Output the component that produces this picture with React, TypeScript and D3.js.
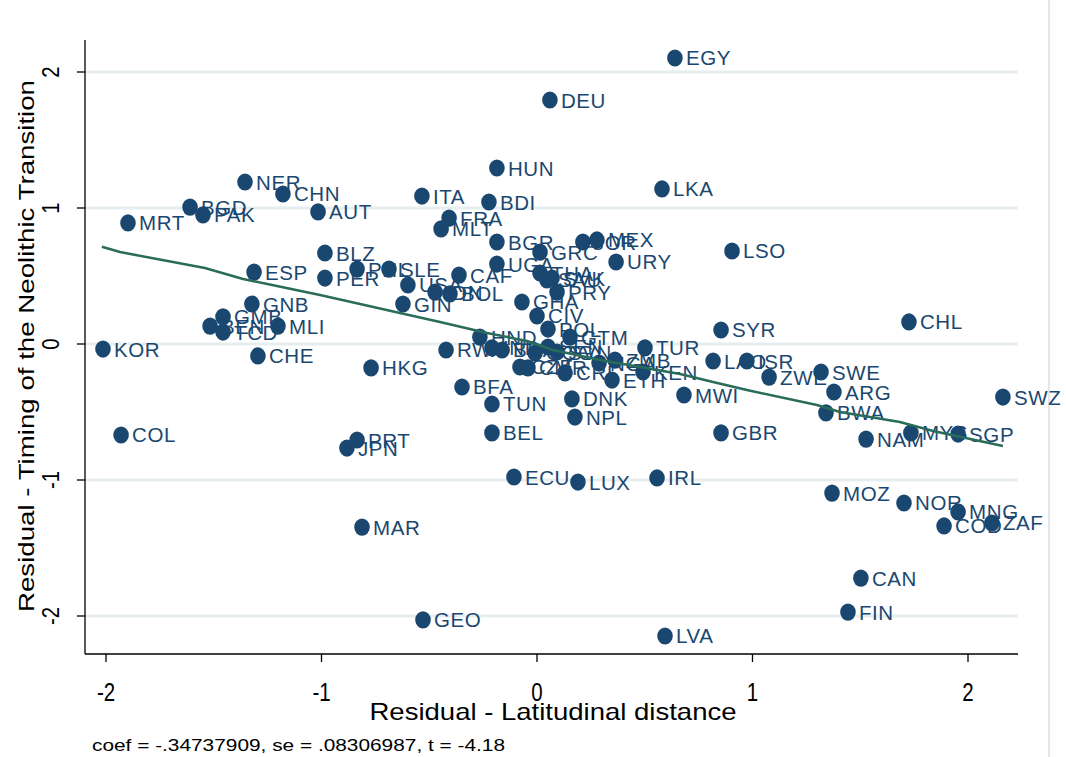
import React from "react";
import * as d3 from "d3";

const countries = [
  "EGY","DEU","HUN","LKA","ITA","BDI","NER","CHN","BGD","PAK","MRT","AUT","FRA","MLT","BGR","GRC","JOR","MEX","URY","LSO",
  "BLZ","ESP","PER","PHL","SLE","UGA","CAF","USA","IDN","BOL","GIN","THA","SAU","SVK","PRY","GHA","CIV","POL","GTM","HND",
  "GNB","GMB","BEN","TCD","MLI","KOR","CHE","RWA","IND","BRA","CZE","CMR","COG","SEN","SVN","CRI","NGA","ZMB","ETH","TUR",
  "KEN","MWI","SYR","LAO","ISR","ZWE","SWE","ARG","BWA","CHL","SWZ","GBR","NAM","MYS","SGP","HKG","BFA","TUN","BEL","DNK",
  "NPL","COL","PRT","JPN","ECU","LUX","IRL","MOZ","NOR","MNG","COD","ZAF","MAR","CAN","FIN","GEO","LVA"
];
const residLatitude = [
  0.640,0.060,-0.186,0.580,-0.534,-0.223,-1.355,-1.179,-1.610,-1.550,-1.898,-1.016,-0.408,-0.445,-0.186,0.014,0.213,0.278,0.367,0.905,
  -0.984,-1.313,-0.984,-0.835,-0.687,-0.186,-0.362,-0.599,-0.473,-0.404,-0.622,0.014,0.046,0.070,0.093,-0.070,0.000,0.051,0.153,-0.265,
  -1.323,-1.457,-1.517,-1.457,-1.202,-2.014,-1.295,-0.422,-0.209,-0.162,-0.079,-0.042,-0.009,0.051,0.093,0.130,0.288,0.362,0.348,0.501,
  0.492,0.682,0.854,0.817,0.974,1.077,1.318,1.378,1.341,1.726,2.162,0.854,1.527,1.735,1.954,-0.770,-0.348,-0.209,-0.209,0.162,
  0.176,-1.930,-0.835,-0.882,-0.107,0.190,0.557,1.369,1.703,1.954,1.889,2.111,-0.812,1.503,1.443,-0.529,0.594
];
const residNeolithic = [
  2.103,1.794,1.294,1.140,1.088,1.044,1.191,1.103,1.007,0.949,0.890,0.971,0.926,0.846,0.750,0.676,0.750,0.765,0.603,0.684,
  0.669,0.529,0.485,0.551,0.551,0.588,0.507,0.434,0.382,0.368,0.294,0.522,0.471,0.485,0.382,0.309,0.206,0.110,0.051,0.051,
  0.294,0.199,0.132,0.088,0.132,-0.037,-0.088,-0.044,-0.029,-0.044,-0.169,-0.176,-0.066,-0.022,-0.059,-0.213,-0.140,-0.118,-0.265,-0.029,
  -0.206,-0.375,0.103,-0.125,-0.125,-0.243,-0.206,-0.353,-0.507,0.162,-0.390,-0.654,-0.699,-0.654,-0.662,-0.176,-0.316,-0.441,-0.654,-0.404,
  -0.537,-0.669,-0.706,-0.765,-0.978,-1.015,-0.985,-1.096,-1.169,-1.235,-1.338,-1.316,-1.346,-1.721,-1.971,-2.029,-2.147
];

const fitX = [-2.019,-1.935,-1.541,-1.364,-1.207,-1.007,-0.821,-0.636,-0.450,-0.232,-0.046,0.074,0.292,0.478,0.664,0.817,0.974,1.299,1.406,1.684,1.838,2.162];
const fitY = [0.715,0.676,0.559,0.478,0.426,0.360,0.294,0.228,0.162,0.081,0.022,-0.044,-0.118,-0.169,-0.221,-0.279,-0.338,-0.449,-0.500,-0.574,-0.640,-0.750];

const xTicks = [-2, -1, 0, 1, 2];
const yTicks = [-2, -1, 0, 1, 2];
const xTitle = "Residual - Latitudinal distance";
const yTitle = "Residual - Timing of the Neolithic Transition";
const note = "coef = -.34737909, se = .08306987, t = -4.18";

const W = 1066, H = 757;
const left = 85, right = 1018, top = 40, bottom = 654;
const navy = "#1a476f";
const green = "#2a6c5a";
const font = "'Liberation Sans', Arial, Helvetica, sans-serif";

export default function App() {
  const x = d3.scaleLinear().domain([-2, 2]).range([106, 968]);
  const y = d3.scaleLinear().domain([-2, 2]).range([616, 72]);
  const line = d3.line<number>().x((d, i) => x(fitX[i])).y((d, i) => y(fitY[i]));

  return (
    <svg width={W} height={H} style={{ position: "absolute", left: 0, top: 0, background: "#fff" }}>
      <rect x={0} y={0} width={W} height={H} fill="#fff" />
      <line x1={1049} x2={1049} y1={0} y2={H} stroke="#dcdcdc" strokeWidth={1.5} />
      {yTicks.map((t) => (
        <line key={"g" + t} x1={left} x2={right} y1={y(t)} y2={y(t)} stroke="#e6eef0" strokeWidth={3} />
      ))}
      <line x1={left} x2={left} y1={top} y2={bottom} stroke="#000" strokeWidth={1.3} />
      <line x1={left} x2={right} y1={bottom} y2={bottom} stroke="#000" strokeWidth={1.3} />
      {yTicks.map((t) => (
        <g key={"yt" + t}>
          <line x1={left - 8} x2={left} y1={y(t)} y2={y(t)} stroke="#000" strokeWidth={1.3} />
          <text
            transform={`translate(59,${y(t)}) rotate(-90) scale(0.85,1)`}
            textAnchor="middle"
            fontFamily={font}
            fontSize={24}
            fill="#000"
          >
            {t}
          </text>
        </g>
      ))}
      {xTicks.map((t) => (
        <g key={"xt" + t}>
          <line x1={x(t)} x2={x(t)} y1={bottom} y2={bottom + 8} stroke="#000" strokeWidth={1.3} />
          <text
            transform={`translate(${x(t)},701) scale(0.82,1)`}
            textAnchor="middle"
            fontFamily={font}
            fontSize={25}
            fill="#000"
          >
            {t}
          </text>
        </g>
      ))}
      <text x={553} y={720} textAnchor="middle" fontFamily={font} fontSize={24} textLength={367} lengthAdjust="spacingAndGlyphs" fill="#000">
        {xTitle}
      </text>
      <text
        transform={`translate(34,346) rotate(-90)`}
        textAnchor="middle"
        fontFamily={font}
        fontSize={22}
        textLength={532}
        lengthAdjust="spacingAndGlyphs"
        fill="#000"
      >
        {yTitle}
      </text>
      <text x={92} y={751} fontFamily={font} fontSize={17} textLength={413} lengthAdjust="spacingAndGlyphs" fill="#000">
        {note}
      </text>
      {countries.map((c, i) => (
        <ellipse key={"m" + c} cx={x(residLatitude[i])} cy={y(residNeolithic[i])} rx={7.8} ry={8.6} fill={navy} />
      ))}
      {countries.map((c, i) => (
        <text
          key={"l" + c}
          x={x(residLatitude[i]) + 11}
          y={y(residNeolithic[i]) + 7.5}
          fontFamily={font}
          fontSize={20.5}
          fill={navy}
          letterSpacing={0.6}
        >
          {c}
        </text>
      ))}
      <path d={line(fitX) || ""} fill="none" stroke={green} strokeWidth={2.5} />
    </svg>
  );
}
